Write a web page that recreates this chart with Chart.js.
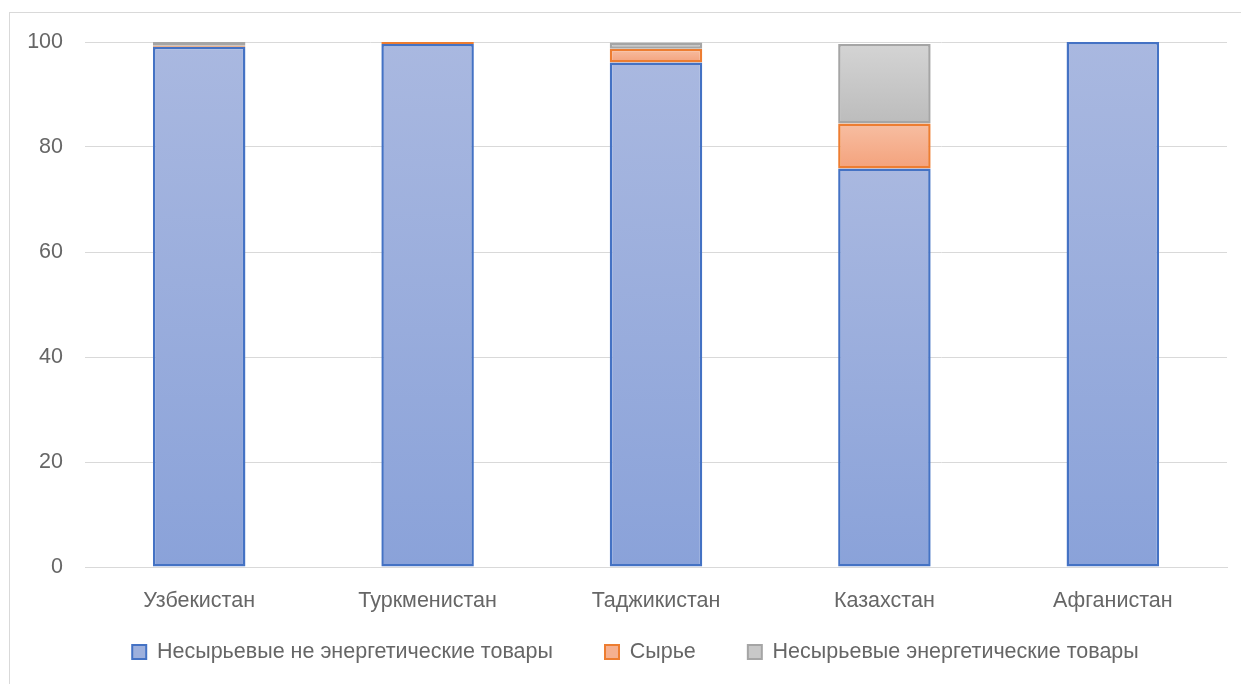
<!DOCTYPE html>
<html>
<head>
<meta charset="utf-8">
<script src="https://cdn.jsdelivr.net/npm/chart.js@4"></script>
<style>
  html, body { margin: 0; padding: 0; background: #fff; }
  #wrap { position: relative; width: 1241px; height: 684px; overflow: hidden; }
  #frame { position: absolute; left: 9px; top: 12px; width: 1300px; height: 700px; border: 1px solid #d9d9d9; box-sizing: border-box; }
  #chart { position: absolute; left: 0; top: 0; }
</style>
</head>
<body>
<div id="wrap">
  <div id="frame"></div>
  <canvas id="chart" width="1241" height="684"></canvas>
</div>
<script>
"use strict";
const countries = ["Узбекистан", "Туркменистан", "Таджикистан", "Казахстан", "Афганистан"];
const nonRawNonEnergy = [99.1, 99.6, 96.1, 75.9, 100];
const rawGoods = [0.2, 0.4, 2.6, 8.6, 0];
const nonRawEnergy = [0.7, 0, 1.2, 15.1, 0];
const seriesNames = ["Несырьевые не энергетические товары", "Сырье", "Несырьевые энергетические товары"];
const yTicks = [0, 20, 40, 60, 80, 100];

const allSeries = [nonRawNonEnergy, rawGoods, nonRawEnergy];
const textColor = "#666666";
const textFont = { family: "Liberation Sans", size: 21.5 };
const legendPad = 52;

const makeFill = (seriesIndex, topColor, bottomColor) => {
	return (ctx) => {
		const chart = ctx.chart;
		if (!chart.chartArea || ctx.dataIndex === undefined) return bottomColor;
		const y = chart.scales.y;
		let base = 0;
		for (let s = 0; s < seriesIndex; s++) base += allSeries[s][ctx.dataIndex];
		const val = allSeries[seriesIndex][ctx.dataIndex];
		const top = y.getPixelForValue(base + val);
		const bottom = y.getPixelForValue(base);
		if (!(bottom - top > 0)) return bottomColor;
		const g = chart.ctx.createLinearGradient(0, top, 0, bottom);
		g.addColorStop(0, topColor);
		g.addColorStop(1, bottomColor);
		return g;
	};
};

// keep the legend box small for layout, then put it where the original has it
const legendShift = {
	id: "legendShift",
	beforeLayout: (chart) => {
		const lg = chart.legend;
		if (lg && !lg._patched) {
			const origFit = lg.fit;
			lg.fit = function () {
				origFit.call(this);
				this.height = 60;
			};
			lg._patched = true;
		}
	},
	afterLayout: (chart) => {
		const lg = chart.legend;
		lg.top = 652 - legendPad - textFont.size / 2;
		lg.bottom = 684;
		lg.height = lg.bottom - lg.top;
		lg.left += 22;
		lg.right += 22;
	},
};

const ctx = document.getElementById("chart").getContext("2d");
const chart = new Chart(ctx, {
	type: "bar",
	data: {
		labels: countries,
		datasets: [
			{
				label: seriesNames[0],
				data: nonRawNonEnergy,
				backgroundColor: makeFill(0, "#a9b8e0", "#8aa2d9"),
				borderColor: "#4472c4",
			},
			{
				label: seriesNames[1],
				data: rawGoods,
				backgroundColor: makeFill(1, "#f7bea2", "#f4a27c"),
				borderColor: "#ed7d31",
			},
			{
				label: seriesNames[2],
				data: nonRawEnergy,
				backgroundColor: makeFill(2, "#d4d4d4", "#bcbcbc"),
				borderColor: "#a5a5a5",
			},
		],
	},
	options: {
		responsive: false,
		animation: false,
		datasets: {
			bar: {
				borderWidth: 2.5,
				borderSkipped: false,
				barPercentage: 1,
				categoryPercentage: 0.405,
			},
		},
		layout: {
			padding: { left: 0, right: 14, top: 42, bottom: 0 },
		},
		scales: {
			x: {
				stacked: true,
				grid: { display: false, drawTicks: false },
				border: { color: "#d9d9d9", width: 1 },
				afterFit: (scale) => {
					scale.height = 684 - 567 - 60;
				},
				ticks: {
					color: textColor,
					font: textFont,
					padding: 21,
				},
			},
			y: {
				stacked: true,
				min: 0,
				max: 100,
				afterBuildTicks: (scale) => {
					scale.ticks = yTicks.map((v) => ({ value: v }));
				},
				afterFit: (scale) => {
					scale.width = 85;
				},
				grid: { color: "#d9d9d9", lineWidth: 1, drawTicks: false },
				border: { display: false },
				ticks: {
					color: textColor,
					font: textFont,
					padding: 22,
				},
			},
		},
		plugins: {
			tooltip: { enabled: false },
			legend: {
				position: "bottom",
				labels: {
					color: textColor,
					font: textFont,
					boxWidth: 14,
					boxHeight: 14,
					padding: legendPad,
					generateLabels: (c) => c.data.datasets.map((ds, i) => ({
						text: ds.label,
						fillStyle: ["#9db0dd", "#f5b090", "#c8c8c8"][i],
						strokeStyle: ds.borderColor,
						lineWidth: 2,
						fontColor: textColor,
						datasetIndex: i,
						hidden: false,
					})),
				},
			},
		},
	},
	plugins: [legendShift],
});
</script>
</body>
</html>
